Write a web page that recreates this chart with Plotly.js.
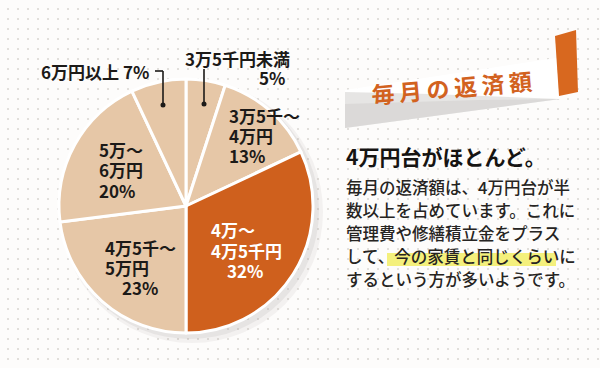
<!DOCTYPE html>
<html>
<head>
<meta charset="utf-8">
<script src="https://cdn.plot.ly/plotly-3.0.1.min.js"></script>
<style>
html,body{margin:0;padding:0;}
body{width:600px;height:368px;overflow:hidden;background-color:#fdfcfb;
background-image:radial-gradient(circle, #e2dfdb 0.9px, rgba(0,0,0,0) 1.4px);
background-size:10px 10px;background-position:3px 4px;}
#chart{width:600px;height:368px;}
</style>
</head>
<body>
<div id="chart"></div>
<script>
// ---- data ----
const categories = ['3万5千円未満', '3万5千〜4万円', '4万〜4万5千円', '4万5千〜5万円', '5万〜6万円', '6万円以上'];
const shares = [5, 13, 32, 23, 20, 7];
const labelLines = [['3万5千円未満'], ['3万5千〜', '4万円'], ['4万〜', '4万5千円'], ['4万5千〜', '5万円'], ['5万〜', '6万円'], ['6万円以上']];
const sliceColors = ['#e6c7a7', '#e6c7a7', '#cf601d', '#e6c7a7', '#e6c7a7', '#e6c7a7'];
const bannerTitle = '毎月の返済額';
const headline = '4万円台がほとんど。';
const bodyLines = ['毎月の返済額は、4万円台が半', '数以上を占めています。これに', '管理費や修繕積立金をプラス', 'して、今の家賃と同じくらいに', 'するという方が多いようです。'];

// ---- helpers (pixel -> paper) ----
const W = 600, H = 368;
const X = px => px / W;
const Y = py => 1 - py / H;
const FONT = 'Noto Sans CJK JP, Noto Sans, sans-serif';
function pct(i) { return shares[i] + '%'; }

const annotations = [];
function lbl(text, x, y, anchor, color) {
  annotations.push({x: X(x), y: Y(y), xanchor: anchor, yanchor: 'middle', text: text,
    font: {family: FONT, size: 17, color: color || '#1c1a18', weight: 700}});
}
// 6万円以上 7%
lbl(labelLines[5][0] + ' ' + pct(5), 151, 71, 'right');
// 3万5千円未満 5%
lbl(labelLines[0][0], 183, 58, 'left');
lbl(pct(0), 287, 78, 'right');
// 3万5千〜4万円 13%
lbl(labelLines[1][0], 227, 115, 'left');
lbl(labelLines[1][1], 227, 135, 'left');
lbl(pct(1), 227, 155, 'left');
// 5万〜6万円 20%
lbl(labelLines[4][0], 97, 150, 'left');
lbl(labelLines[4][1], 97, 170, 'left');
lbl(pct(4), 97, 190, 'left');
// 4万5千〜5万円 23%
lbl(labelLines[3][0], 103, 247, 'left');
lbl(labelLines[3][1], 103, 267, 'left');
lbl(pct(3), 140, 287, 'center');
// 4万〜4万5千円 32%
lbl(labelLines[2][0], 209, 229, 'left', '#ffffff');
lbl(labelLines[2][1], 209, 250, 'left', '#ffffff');
lbl(pct(2), 245, 270, 'center', '#ffffff');

// banner title
annotations.push({x: X(451), y: Y(87), xanchor: 'center', yanchor: 'middle', textangle: -5,
  text: bannerTitle.split('').join('\u2009'), font: {family: FONT, size: 23, color: '#d2621f', weight: 700}});
// headline
annotations.push({x: X(344), y: Y(156), xanchor: 'left', yanchor: 'middle',
  text: headline, font: {family: FONT, size: 21, color: '#161412', weight: 700}});
bodyLines.forEach((t, i) => {
  annotations.push({x: X(344), y: Y(187 + i * 23), xanchor: 'left', yanchor: 'middle',
    text: t, font: {family: FONT, size: 16.5, color: '#262422', weight: 500}});
});
annotations.forEach(a => { a.xref = 'paper'; a.yref = 'paper'; a.showarrow = false; a.align = 'left'; });

function circ(cx, cy, r, fill, opacity) {
  return {type: 'circle', xref: 'paper', yref: 'paper', x0: X(cx - r), x1: X(cx + r),
    y0: Y(cy + r), y1: Y(cy - r), fillcolor: fill, opacity: opacity, line: {width: 0}, layer: 'below'};
}
function seg(x0, y0, x1, y1) {
  return {type: 'line', xref: 'paper', yref: 'paper', x0: X(x0), y0: Y(y0), x1: X(x1), y1: Y(y1),
    line: {color: '#1c1a18', width: 1.6}, layer: 'above'};
}
function path(pts, fill, opacity) {
  const d = pts.map((p, i) => (i ? 'L' : 'M') + X(p[0]) + ',' + Y(p[1])).join(' ') + ' Z';
  return {type: 'path', xref: 'paper', yref: 'paper', path: d, fillcolor: fill, opacity: opacity,
    line: {width: 0}, layer: 'below'};
}
function dot(cx, cy) {
  return {type: 'circle', xref: 'paper', yref: 'paper', x0: X(cx - 2.5), x1: X(cx + 2.5),
    y0: Y(cy + 2.5), y1: Y(cy - 2.5), fillcolor: '#1c1a18', line: {width: 0}, layer: 'above'};
}

const shapes = [
  // soft shadow under the pie
  circ(192, 212, 131, '#9a9794', 0.10),
  circ(190, 210, 129, '#9a9794', 0.14),
  // banner paper strip
  path([[345, 90], [556, 58], [560, 99], [345, 128]], '#ffffff', 1),
  path([[345, 92], [430, 94], [560, 99], [345, 128]], '#dcdad8', 0.7),
  path([[345, 104], [480, 100], [560, 99], [345, 128]], '#d0cecc', 0.5),
  // highlight behind phrase
  {type: 'rect', xref: 'paper', yref: 'paper', x0: X(387), x1: X(556), y0: Y(266), y1: Y(253),
    fillcolor: '#f4f07c', line: {width: 0}, layer: 'below'},
  // orange tab
  path([[555, 36], [576, 30], [578, 92], [559, 96]], '#d8681f', 1),
  // leader lines
  seg(163, 105, 163, 71), seg(163, 71, 155, 71), dot(163, 105),
  seg(204, 104, 204, 69), dot(204, 104)
];

const data = [{
  type: 'pie',
  labels: categories,
  values: shares,
  sort: false,
  direction: 'clockwise',
  rotation: 0,
  textinfo: 'none',
  hoverinfo: 'label+percent',
  marker: {colors: sliceColors, line: {color: '#ffffff', width: 3}},
  domain: {x: [X(59), X(313)], y: [Y(333), Y(79)]},
  showlegend: false
}];

const layout = {
  width: W, height: H,
  margin: {l: 0, r: 0, t: 0, b: 0},
  paper_bgcolor: 'rgba(0,0,0,0)',
  plot_bgcolor: 'rgba(0,0,0,0)',
  showlegend: false,
  annotations: annotations,
  shapes: shapes
};
Plotly.newPlot('chart', data, layout, {displayModeBar: false, staticPlot: true});
</script>
</body>
</html>
